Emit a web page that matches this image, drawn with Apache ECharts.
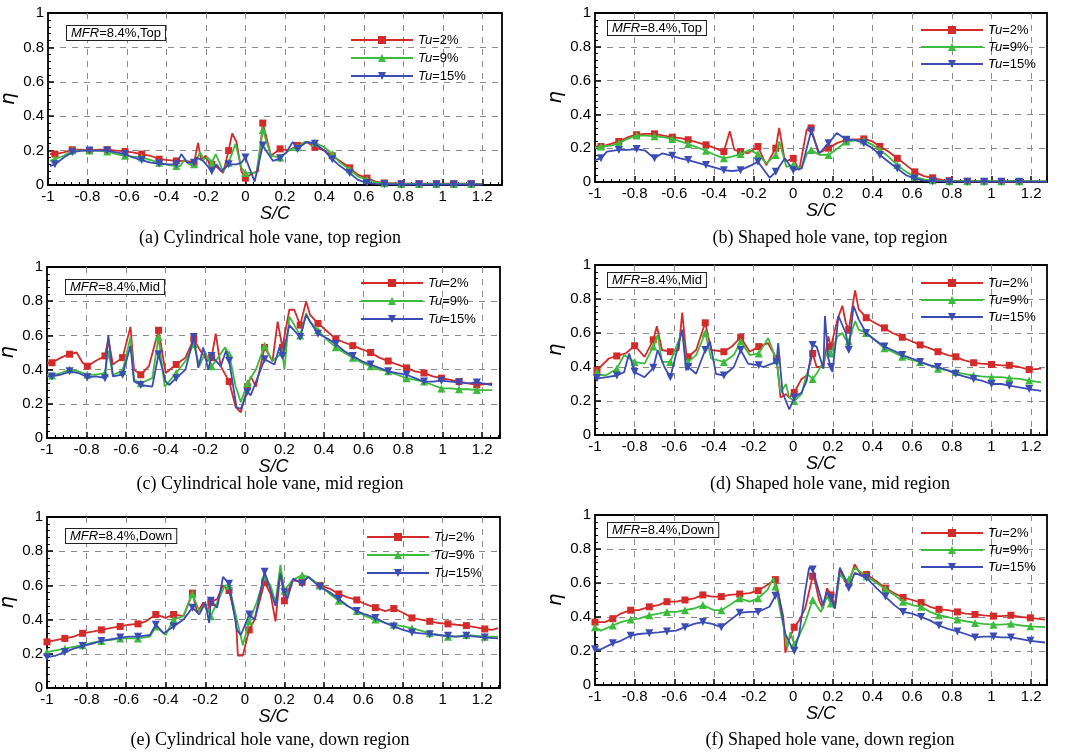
<!DOCTYPE html>
<html><head><meta charset="utf-8">
<script src="https://cdn.jsdelivr.net/npm/echarts@6/dist/echarts.min.js"></script>
<style>html,body{margin:0;padding:0;background:#fff}#c{width:1067px;height:754px}</style>
</head><body><div id="c"></div><script>
// ---------- labels ----------
const tuNames = ['Tu=2%', 'Tu=9%', 'Tu=15%'];
const regionTags = ['Top', 'Top', 'Mid', 'Mid', 'Down', 'Down'];
const captions = [
  '(a) Cylindrical hole vane, top region', '(b) Shaped hole vane, top region',
  '(c) Cylindrical hole vane, mid region', '(d) Shaped hole vane, mid region',
  '(e) Cylindrical hole vane, down region', '(f) Shaped hole vane, down region'];
const xAxisName = 'S/C';
const yAxisName = 'η';
const mfrText = 'MFR';
const mfrValue = '=8.4%';

// ---------- panel (a) ----------
const a2Mark = [[-0.965,0.18],[-0.877,0.205],[-0.79,0.20],[-0.70,0.205],[-0.61,0.195],[-0.525,0.18],[-0.437,0.15],[-0.35,0.14],[-0.26,0.13],[-0.17,0.12],[-0.085,0.20],[0,0.04],[0.088,0.36],[0.176,0.21],[0.264,0.23],[0.352,0.22],[0.44,0.17],[0.528,0.10],[0.616,0.04],[0.704,0.012],[0.79,0.008],[0.88,0.008],[0.968,0.008],[1.056,0.008],[1.144,0.008]];
const a2Line = [[-0.99,0.18],[-0.92,0.19],[-0.83,0.205],[-0.745,0.205],[-0.655,0.20],[-0.57,0.19],[-0.48,0.17],[-0.39,0.145],[-0.30,0.14],[-0.24,0.245],[-0.225,0.15],[-0.20,0.17],[-0.185,0.13],[-0.14,0.10],[-0.113,0.07],[-0.067,0.30],[-0.045,0.25],[-0.02,0.08],[0.039,0.07],[0.064,0.08],[0.13,0.17],[0.22,0.20],[0.31,0.25],[0.40,0.20],[0.48,0.14],[0.57,0.06],[0.66,0.02],[1.2,0.005]];
const a9Mark = [[-0.965,0.15],[-0.877,0.20],[-0.79,0.20],[-0.70,0.195],[-0.61,0.17],[-0.525,0.16],[-0.437,0.13],[-0.35,0.11],[-0.26,0.12],[-0.17,0.13],[-0.085,0.13],[0,0.07],[0.088,0.32],[0.176,0.16],[0.264,0.22],[0.352,0.245],[0.44,0.18],[0.528,0.09],[0.616,0.03],[0.704,0.01],[0.79,0.006],[0.88,0.006],[0.968,0.006],[1.056,0.006],[1.144,0.006]];
const a9Line = [[-0.99,0.14],[-0.92,0.17],[-0.83,0.20],[-0.745,0.20],[-0.655,0.18],[-0.57,0.165],[-0.48,0.145],[-0.39,0.115],[-0.33,0.11],[-0.307,0.15],[-0.285,0.12],[-0.23,0.19],[-0.21,0.15],[-0.19,0.16],[-0.15,0.18],[-0.113,0.08],[-0.05,0.24],[-0.02,0.10],[0.056,0.07],[0.13,0.17],[0.22,0.20],[0.30,0.25],[0.40,0.22],[0.48,0.13],[0.57,0.05],[0.66,0.015],[1.2,0.004]];
const a15Mark = [[-0.965,0.12],[-0.877,0.19],[-0.79,0.20],[-0.70,0.20],[-0.61,0.18],[-0.525,0.145],[-0.437,0.125],[-0.35,0.12],[-0.26,0.13],[-0.17,0.08],[-0.085,0.12],[0,0.16],[0.088,0.23],[0.176,0.155],[0.264,0.21],[0.352,0.24],[0.44,0.15],[0.528,0.07],[0.616,0.012],[0.704,0.005],[0.79,0.003],[0.88,0.003],[0.968,0.003],[1.056,0.003],[1.144,0.003]];
const a15Line = [[-0.99,0.11],[-0.92,0.16],[-0.83,0.20],[-0.745,0.20],[-0.655,0.19],[-0.57,0.16],[-0.48,0.13],[-0.39,0.12],[-0.324,0.18],[-0.295,0.13],[-0.248,0.16],[-0.214,0.14],[-0.147,0.12],[-0.12,0.08],[-0.045,0.12],[-0.02,0.13],[0.047,0.02],[0.14,0.14],[0.207,0.19],[0.24,0.25],[0.31,0.25],[0.40,0.20],[0.48,0.11],[0.57,0.03],[0.66,0.006],[1.2,0.002]];

// ---------- panel (b) ----------
const b2Mark = [[-0.97,0.21],[-0.88,0.24],[-0.79,0.28],[-0.70,0.285],[-0.61,0.265],[-0.53,0.25],[-0.44,0.22],[-0.35,0.18],[-0.266,0.18],[-0.178,0.21],[-0.088,0.20],[0,0.14],[0.09,0.32],[0.178,0.20],[0.268,0.25],[0.356,0.255],[0.437,0.21],[0.525,0.14],[0.613,0.06],[0.703,0.025],[0.788,0.008],[0.878,0.004],[0.963,0.003],[1.05,0.003],[1.14,0.003]];
const b2Line = [[-1,0.21],[-0.92,0.225],[-0.835,0.265],[-0.745,0.285],[-0.655,0.275],[-0.57,0.26],[-0.485,0.235],[-0.395,0.20],[-0.32,0.30],[-0.297,0.19],[-0.229,0.17],[-0.136,0.10],[-0.071,0.32],[-0.042,0.12],[0.03,0.07],[0.068,0.31],[0.10,0.32],[0.127,0.17],[0.22,0.23],[0.31,0.25],[0.40,0.24],[0.48,0.18],[0.57,0.10],[0.66,0.035],[0.75,0.012],[1.28,0.002]];
const b9Mark = [[-0.97,0.21],[-0.88,0.23],[-0.79,0.275],[-0.70,0.27],[-0.61,0.255],[-0.53,0.225],[-0.44,0.185],[-0.35,0.14],[-0.266,0.165],[-0.178,0.165],[-0.088,0.16],[0,0.10],[0.09,0.19],[0.178,0.16],[0.268,0.24],[0.356,0.245],[0.437,0.19],[0.525,0.10],[0.613,0.03],[0.703,0.01],[0.788,0.005],[0.878,0.005],[0.963,0.005],[1.05,0.005],[1.14,0.005]];
const b9Line = [[-1,0.20],[-0.92,0.215],[-0.835,0.255],[-0.745,0.275],[-0.655,0.265],[-0.57,0.24],[-0.485,0.205],[-0.395,0.16],[-0.31,0.15],[-0.22,0.19],[-0.136,0.11],[-0.071,0.24],[-0.034,0.09],[0.042,0.08],[0.07,0.17],[0.132,0.16],[0.203,0.18],[0.31,0.245],[0.40,0.22],[0.48,0.15],[0.57,0.06],[0.66,0.015],[0.75,0.006],[1.28,0.004]];
const b15Mark = [[-0.97,0.14],[-0.88,0.19],[-0.79,0.195],[-0.70,0.14],[-0.61,0.155],[-0.53,0.13],[-0.44,0.10],[-0.35,0.07],[-0.266,0.07],[-0.178,0.12],[-0.088,0.06],[0,0.07],[0.09,0.30],[0.178,0.23],[0.268,0.25],[0.356,0.23],[0.437,0.16],[0.525,0.08],[0.613,0.02],[0.703,0.005],[0.788,0.002],[0.878,0.002],[0.963,0.002],[1.05,0.002],[1.14,0.002]];
const b15Line = [[-1,0.13],[-0.94,0.18],[-0.835,0.19],[-0.746,0.185],[-0.66,0.17],[-0.57,0.14],[-0.485,0.115],[-0.395,0.085],[-0.31,0.065],[-0.21,0.10],[-0.119,0.025],[-0.042,0.14],[0.042,0.08],[0.132,0.17],[0.22,0.29],[0.31,0.25],[0.40,0.20],[0.48,0.12],[0.57,0.04],[0.66,0.008],[1.28,0.002]];

// ---------- panel (c) ----------
const c2Mark = [[-0.975,0.44],[-0.886,0.49],[-0.796,0.42],[-0.707,0.48],[-0.618,0.47],[-0.526,0.37],[-0.436,0.63],[-0.347,0.43],[-0.258,0.58],[-0.168,0.47],[-0.079,0.33],[0.013,0.30],[0.10,0.53],[0.19,0.53],[0.28,0.66],[0.37,0.67],[0.46,0.58],[0.546,0.54],[0.636,0.50],[0.725,0.45],[0.818,0.41],[0.906,0.38],[0.994,0.35],[1.083,0.33],[1.173,0.31]];
const c2Line = [[-1,0.44],[-0.93,0.47],[-0.85,0.50],[-0.82,0.44],[-0.755,0.45],[-0.69,0.58],[-0.667,0.43],[-0.578,0.65],[-0.56,0.40],[-0.485,0.42],[-0.40,0.38],[-0.30,0.47],[-0.23,0.52],[-0.19,0.45],[-0.147,0.61],[-0.122,0.42],[-0.046,0.18],[-0.02,0.15],[0.005,0.26],[0.03,0.36],[0.056,0.30],[0.14,0.45],[0.166,0.68],[0.225,0.75],[0.25,0.75],[0.31,0.80],[0.33,0.72],[0.42,0.62],[0.50,0.56],[0.59,0.52],[0.68,0.47],[0.77,0.43],[0.86,0.39],[0.95,0.36],[1.04,0.34],[1.13,0.32],[1.25,0.32]];
const c9Mark = [[-0.975,0.365],[-0.886,0.40],[-0.796,0.37],[-0.707,0.38],[-0.618,0.39],[-0.526,0.32],[-0.436,0.59],[-0.347,0.38],[-0.258,0.55],[-0.168,0.42],[-0.079,0.49],[0.013,0.32],[0.10,0.54],[0.19,0.50],[0.28,0.60],[0.37,0.63],[0.46,0.53],[0.546,0.47],[0.636,0.42],[0.725,0.39],[0.818,0.35],[0.906,0.33],[0.994,0.29],[1.083,0.285],[1.173,0.28]];
const c9Line = [[-1,0.37],[-0.93,0.38],[-0.84,0.39],[-0.755,0.37],[-0.69,0.51],[-0.667,0.37],[-0.578,0.59],[-0.56,0.34],[-0.468,0.35],[-0.405,0.30],[-0.30,0.45],[-0.23,0.42],[-0.20,0.50],[-0.147,0.45],[-0.10,0.53],[-0.046,0.30],[-0.02,0.21],[0.056,0.40],[0.14,0.45],[0.20,0.40],[0.225,0.71],[0.31,0.73],[0.33,0.68],[0.42,0.57],[0.50,0.50],[0.59,0.44],[0.68,0.40],[0.77,0.37],[0.86,0.34],[0.95,0.31],[1.04,0.29],[1.13,0.285],[1.25,0.28]];
const c15Mark = [[-0.975,0.36],[-0.886,0.39],[-0.796,0.355],[-0.707,0.35],[-0.618,0.37],[-0.526,0.31],[-0.436,0.49],[-0.347,0.35],[-0.258,0.59],[-0.168,0.48],[-0.079,0.45],[0.013,0.27],[0.10,0.46],[0.19,0.48],[0.28,0.59],[0.37,0.61],[0.46,0.55],[0.546,0.48],[0.636,0.43],[0.725,0.39],[0.818,0.37],[0.906,0.33],[0.994,0.335],[1.083,0.325],[1.173,0.325]];
const c15Line = [[-1,0.36],[-0.93,0.37],[-0.84,0.38],[-0.75,0.36],[-0.69,0.60],[-0.667,0.36],[-0.578,0.54],[-0.56,0.33],[-0.468,0.30],[-0.40,0.33],[-0.383,0.31],[-0.30,0.40],[-0.235,0.41],[-0.21,0.53],[-0.185,0.40],[-0.122,0.42],[-0.095,0.51],[-0.042,0.18],[-0.02,0.17],[0.03,0.25],[0.15,0.43],[0.175,0.53],[0.225,0.66],[0.31,0.72],[0.33,0.68],[0.42,0.58],[0.50,0.51],[0.59,0.45],[0.68,0.41],[0.77,0.38],[0.86,0.35],[0.95,0.33],[1.04,0.33],[1.13,0.32],[1.25,0.31]];

// ---------- panel (d) ----------
const d2Mark = [[-0.99,0.38],[-0.89,0.465],[-0.80,0.525],[-0.706,0.56],[-0.62,0.49],[-0.53,0.46],[-0.444,0.66],[-0.35,0.49],[-0.265,0.575],[-0.174,0.52],[-0.084,0.45],[0.005,0.25],[0.098,0.48],[0.19,0.52],[0.28,0.62],[0.368,0.69],[0.46,0.63],[0.55,0.575],[0.64,0.53],[0.73,0.49],[0.82,0.46],[0.91,0.425],[1.0,0.415],[1.09,0.41],[1.19,0.385]];
const d2Line = [[-1,0.37],[-0.93,0.45],[-0.845,0.48],[-0.75,0.46],[-0.688,0.64],[-0.662,0.50],[-0.578,0.50],[-0.56,0.72],[-0.54,0.48],[-0.49,0.50],[-0.414,0.50],[-0.31,0.52],[-0.22,0.49],[-0.127,0.54],[-0.064,0.22],[-0.037,0.24],[-0.02,0.22],[0.042,0.33],[0.068,0.35],[0.118,0.40],[0.152,0.40],[0.177,0.58],[0.223,0.68],[0.248,0.76],[0.265,0.66],[0.312,0.85],[0.33,0.74],[0.41,0.66],[0.50,0.60],[0.60,0.55],[0.69,0.51],[0.78,0.47],[0.86,0.44],[0.95,0.42],[1.05,0.41],[1.14,0.40],[1.25,0.39]];
const d9Mark = [[-0.99,0.37],[-0.89,0.39],[-0.80,0.43],[-0.706,0.52],[-0.62,0.43],[-0.53,0.43],[-0.444,0.60],[-0.35,0.43],[-0.265,0.55],[-0.174,0.48],[-0.084,0.44],[0.005,0.20],[0.098,0.33],[0.19,0.48],[0.28,0.55],[0.368,0.60],[0.46,0.51],[0.55,0.46],[0.64,0.43],[0.73,0.39],[0.82,0.37],[0.91,0.35],[1.0,0.34],[1.09,0.335],[1.19,0.32]];
const d9Line = [[-1,0.36],[-0.946,0.35],[-0.853,0.47],[-0.75,0.42],[-0.684,0.59],[-0.662,0.43],[-0.56,0.61],[-0.54,0.42],[-0.49,0.47],[-0.414,0.45],[-0.30,0.47],[-0.22,0.47],[-0.127,0.57],[-0.064,0.25],[-0.037,0.30],[-0.02,0.22],[0.042,0.24],[0.068,0.36],[0.118,0.36],[0.152,0.43],[0.177,0.50],[0.223,0.58],[0.248,0.60],[0.265,0.56],[0.312,0.67],[0.33,0.62],[0.41,0.56],[0.50,0.49],[0.60,0.44],[0.69,0.41],[0.78,0.38],[0.86,0.36],[0.95,0.345],[1.05,0.34],[1.14,0.33],[1.25,0.31]];
const d15Mark = [[-0.99,0.335],[-0.89,0.35],[-0.80,0.37],[-0.706,0.395],[-0.62,0.34],[-0.53,0.40],[-0.444,0.50],[-0.35,0.35],[-0.265,0.50],[-0.174,0.41],[-0.084,0.43],[0.005,0.22],[0.098,0.53],[0.19,0.40],[0.28,0.50],[0.368,0.60],[0.46,0.52],[0.55,0.47],[0.64,0.43],[0.73,0.40],[0.82,0.36],[0.91,0.33],[1.0,0.30],[1.09,0.29],[1.19,0.27]];
const d15Line = [[-1,0.33],[-0.94,0.34],[-0.853,0.37],[-0.828,0.48],[-0.75,0.34],[-0.684,0.50],[-0.65,0.40],[-0.56,0.62],[-0.54,0.38],[-0.49,0.36],[-0.42,0.55],[-0.39,0.36],[-0.30,0.40],[-0.228,0.42],[-0.152,0.40],[-0.076,0.54],[-0.054,0.25],[-0.02,0.15],[0.042,0.25],[0.068,0.32],[0.118,0.52],[0.152,0.39],[0.16,0.70],[0.177,0.45],[0.198,0.37],[0.228,0.70],[0.265,0.60],[0.304,0.76],[0.33,0.68],[0.41,0.56],[0.50,0.50],[0.60,0.45],[0.69,0.41],[0.78,0.38],[0.86,0.345],[0.95,0.32],[1.05,0.30],[1.14,0.28],[1.25,0.26]];

// ---------- panel (e) ----------
const e2Mark = [[-1.0,0.27],[-0.91,0.29],[-0.82,0.32],[-0.725,0.34],[-0.63,0.36],[-0.54,0.375],[-0.45,0.43],[-0.36,0.43],[-0.265,0.555],[-0.172,0.50],[-0.08,0.57],[0.022,0.34],[0.10,0.62],[0.20,0.51],[0.29,0.62],[0.38,0.60],[0.475,0.55],[0.566,0.515],[0.66,0.47],[0.753,0.465],[0.845,0.41],[0.935,0.39],[1.027,0.375],[1.12,0.365],[1.213,0.345]];
const e2Line = [[-0.955,0.28],[-0.865,0.30],[-0.77,0.33],[-0.68,0.35],[-0.585,0.37],[-0.50,0.39],[-0.40,0.41],[-0.31,0.42],[-0.24,0.44],[-0.21,0.50],[-0.19,0.45],[-0.14,0.52],[-0.11,0.60],[-0.045,0.40],[-0.035,0.19],[-0.01,0.19],[0.05,0.40],[0.13,0.55],[0.155,0.39],[0.18,0.68],[0.24,0.63],[0.32,0.65],[0.43,0.58],[0.52,0.53],[0.61,0.49],[0.71,0.45],[0.80,0.44],[0.89,0.40],[0.98,0.38],[1.07,0.37],[1.17,0.355],[1.25,0.34],[1.28,0.35]];
const e9Mark = [[-1.0,0.21],[-0.91,0.23],[-0.82,0.25],[-0.725,0.275],[-0.63,0.29],[-0.54,0.29],[-0.45,0.36],[-0.36,0.40],[-0.265,0.55],[-0.172,0.42],[-0.08,0.60],[0.022,0.39],[0.10,0.65],[0.20,0.57],[0.29,0.66],[0.38,0.60],[0.475,0.51],[0.566,0.45],[0.66,0.40],[0.753,0.37],[0.845,0.35],[0.935,0.32],[1.027,0.30],[1.12,0.31],[1.213,0.30]];
const e9Line = [[-0.955,0.22],[-0.865,0.24],[-0.77,0.265],[-0.68,0.28],[-0.585,0.29],[-0.48,0.30],[-0.40,0.31],[-0.31,0.42],[-0.23,0.45],[-0.20,0.49],[-0.14,0.50],[-0.10,0.60],[-0.04,0.40],[-0.01,0.25],[0.06,0.50],[0.13,0.60],[0.155,0.50],[0.18,0.72],[0.24,0.63],[0.32,0.65],[0.43,0.55],[0.52,0.48],[0.61,0.42],[0.71,0.38],[0.80,0.36],[0.89,0.335],[0.98,0.31],[1.07,0.30],[1.17,0.305],[1.28,0.30]];
const e15Mark = [[-1.0,0.18],[-0.91,0.21],[-0.82,0.245],[-0.725,0.275],[-0.63,0.295],[-0.54,0.30],[-0.45,0.37],[-0.36,0.36],[-0.265,0.47],[-0.172,0.51],[-0.08,0.61],[0.022,0.43],[0.10,0.68],[0.20,0.56],[0.29,0.61],[0.38,0.59],[0.475,0.52],[0.566,0.45],[0.66,0.41],[0.753,0.36],[0.845,0.325],[0.935,0.315],[1.027,0.305],[1.12,0.305],[1.213,0.295]];
const e15Line = [[-0.955,0.19],[-0.865,0.23],[-0.77,0.26],[-0.68,0.285],[-0.585,0.30],[-0.48,0.31],[-0.41,0.32],[-0.31,0.40],[-0.23,0.43],[-0.20,0.50],[-0.18,0.38],[-0.14,0.47],[-0.11,0.65],[-0.04,0.34],[-0.02,0.31],[0.05,0.40],[0.13,0.57],[0.155,0.48],[0.18,0.67],[0.215,0.52],[0.245,0.64],[0.32,0.65],[0.43,0.56],[0.52,0.48],[0.61,0.43],[0.71,0.38],[0.80,0.34],[0.89,0.32],[0.98,0.31],[1.07,0.30],[1.17,0.30],[1.28,0.29]];

// ---------- panel (f) ----------
const f2Mark = [[-1.0,0.37],[-0.91,0.39],[-0.82,0.44],[-0.726,0.46],[-0.637,0.49],[-0.546,0.50],[-0.456,0.53],[-0.363,0.52],[-0.27,0.535],[-0.177,0.555],[-0.09,0.62],[0.005,0.34],[0.098,0.64],[0.19,0.53],[0.28,0.60],[0.37,0.65],[0.465,0.57],[0.554,0.515],[0.645,0.485],[0.735,0.445],[0.828,0.43],[0.917,0.415],[1.01,0.405],[1.098,0.41],[1.196,0.395]];
const f2Line = [[-0.95,0.37],[-0.87,0.42],[-0.78,0.44],[-0.68,0.47],[-0.59,0.49],[-0.50,0.51],[-0.41,0.52],[-0.32,0.53],[-0.22,0.54],[-0.13,0.59],[-0.05,0.40],[-0.04,0.19],[-0.02,0.27],[0.03,0.38],[0.06,0.45],[0.10,0.66],[0.13,0.50],[0.15,0.45],[0.17,0.57],[0.21,0.47],[0.235,0.68],[0.26,0.61],[0.31,0.71],[0.34,0.65],[0.42,0.61],[0.51,0.54],[0.60,0.50],[0.69,0.46],[0.78,0.44],[0.87,0.42],[0.96,0.41],[1.05,0.405],[1.15,0.40],[1.27,0.385]];
const f9Mark = [[-1.0,0.34],[-0.91,0.35],[-0.82,0.385],[-0.726,0.41],[-0.637,0.43],[-0.546,0.44],[-0.456,0.47],[-0.363,0.44],[-0.27,0.51],[-0.177,0.51],[-0.09,0.58],[0.005,0.24],[0.098,0.50],[0.19,0.48],[0.28,0.62],[0.37,0.64],[0.465,0.565],[0.554,0.49],[0.645,0.46],[0.735,0.41],[0.828,0.385],[0.917,0.365],[1.01,0.355],[1.098,0.36],[1.196,0.345]];
const f9Line = [[-0.97,0.32],[-0.87,0.37],[-0.78,0.39],[-0.68,0.42],[-0.59,0.43],[-0.50,0.45],[-0.40,0.44],[-0.32,0.47],[-0.22,0.49],[-0.13,0.56],[-0.10,0.63],[-0.05,0.35],[-0.03,0.22],[-0.015,0.31],[0.03,0.29],[0.06,0.37],[0.14,0.43],[0.17,0.52],[0.21,0.45],[0.235,0.65],[0.26,0.62],[0.31,0.69],[0.42,0.60],[0.51,0.53],[0.60,0.47],[0.69,0.43],[0.78,0.40],[0.87,0.375],[0.96,0.36],[1.05,0.355],[1.15,0.35],[1.27,0.34]];
const f15Mark = [[-1.0,0.21],[-0.91,0.245],[-0.82,0.29],[-0.726,0.305],[-0.637,0.315],[-0.546,0.34],[-0.456,0.37],[-0.363,0.34],[-0.27,0.425],[-0.177,0.43],[-0.09,0.525],[0.005,0.20],[0.098,0.68],[0.19,0.51],[0.28,0.57],[0.37,0.63],[0.465,0.52],[0.554,0.43],[0.645,0.40],[0.735,0.35],[0.828,0.315],[0.917,0.28],[1.01,0.285],[1.098,0.28],[1.196,0.26]];
const f15Line = [[-0.97,0.21],[-0.87,0.26],[-0.78,0.30],[-0.68,0.31],[-0.59,0.32],[-0.50,0.36],[-0.41,0.36],[-0.32,0.38],[-0.22,0.43],[-0.12,0.46],[-0.075,0.54],[-0.04,0.30],[-0.015,0.24],[0.03,0.30],[0.06,0.55],[0.08,0.69],[0.13,0.55],[0.15,0.47],[0.17,0.55],[0.21,0.45],[0.235,0.69],[0.26,0.63],[0.31,0.66],[0.42,0.57],[0.51,0.47],[0.60,0.42],[0.69,0.38],[0.78,0.33],[0.87,0.30],[0.96,0.285],[1.05,0.28],[1.15,0.27],[1.27,0.25]];

const panelCurves = [
  [[a2Line, a2Mark], [a9Line, a9Mark], [a15Line, a15Mark]],
  [[b2Line, b2Mark], [b9Line, b9Mark], [b15Line, b15Mark]],
  [[c2Line, c2Mark], [c9Line, c9Mark], [c15Line, c15Mark]],
  [[d2Line, d2Mark], [d9Line, d9Mark], [d15Line, d15Mark]],
  [[e2Line, e2Mark], [e9Line, e9Mark], [e15Line, e15Mark]],
  [[f2Line, f2Mark], [f9Line, f9Mark], [f15Line, f15Mark]]
];
const xMin = -1, xStep = 0.2;
const xMaxes = [1.3, 1.28, 1.29, 1.28, 1.29, 1.28];
const yMin = 0, yMax = 1, yStep = 0.2;

// ---------- layout (pixels) ----------
const grids = [
  {left: 48, top: 13, width: 454, height: 172},
  {left: 595, top: 13, width: 452, height: 169},
  {left: 47, top: 267, width: 453, height: 171},
  {left: 595, top: 265, width: 452, height: 170},
  {left: 47, top: 517, width: 453, height: 171},
  {left: 595, top: 515, width: 452, height: 170}
];
const legendPos = [
  {left: 350, top: 33, gap: 4},
  {left: 920, top: 23, gap: 3},
  {left: 360, top: 276, gap: 4},
  {left: 920, top: 276, gap: 3},
  {left: 366, top: 530, gap: 4},
  {left: 920, top: 526, gap: 3}
];
const boxPos = [[66, 25], [607, 20], [65, 279], [607, 272], [65, 528], [607, 522]];
const capPos = [[270, 238], [830, 238], [270, 484], [830, 484], [270, 740], [830, 740]];

const colors = ['#d42a2a', '#3cbc3c', '#3b4cb4'];
const symbols = ['rect', 'triangle', 'triangle'];
const rotates = [0, 0, 180];
const FONT = 'Liberation Sans';

function merged(line, mark) {
  const pts = line.map(p => ({value: p, symbol: 'none'})).concat(mark.map(p => ({value: p})));
  pts.sort((u, v) => u.value[0] - v.value[0]);
  return pts;
}
function isMajor(v) { const k = (v - xMin) / xStep; return Math.abs(k - Math.round(k)) < 1e-6; }

const series = [];
panelCurves.forEach((curves, i) => {
  curves.forEach(([line, mark], k) => {
    series.push({
      type: 'line', name: tuNames[k], xAxisIndex: i, yAxisIndex: i,
      data: merged(line, mark),
      symbol: symbols[k], symbolRotate: rotates[k], symbolSize: k === 0 ? 7 : 8,
      showAllSymbol: true, showSymbol: true,
      lineStyle: {color: colors[k], width: 1.8},
      itemStyle: {color: colors[k]},
      emphasis: {disabled: true},
      z: 3 + k, animation: false
    });
  });
});

const axisCommon = {
  axisLine: {show: false, onZero: false},
  axisTick: {show: true, inside: true, length: 6, lineStyle: {color: '#000', width: 1.5}},
  minorTick: {show: true, splitNumber: 5, length: 3, lineStyle: {color: '#000', width: 1}},
  splitLine: {show: true, showMinLine: false, showMaxLine: false, lineStyle: {color: '#8a8a8a', width: 1, type: [6, 6]}}
};

const option = {
  backgroundColor: '#fff',
  animation: false,
  grid: grids.map(g => Object.assign({show: true, borderColor: '#000', borderWidth: 1.8, backgroundColor: 'transparent', containLabel: false, outerBoundsMode: 'none'}, g)),
  xAxis: grids.map((g, i) => Object.assign({
    type: 'value', gridIndex: i, min: xMin, max: xMaxes[i], interval: xStep,
    axisLabel: {show: true, color: '#000', fontSize: 15, fontFamily: FONT, margin: 4,
      formatter: v => isMajor(v) ? String(+v.toFixed(2)) : ''},
    name: xAxisName, nameLocation: 'middle', nameGap: 20,
    nameTextStyle: {color: '#000', fontSize: 18, fontStyle: 'italic', fontFamily: FONT}
  }, axisCommon)),
  yAxis: grids.map((g, i) => Object.assign({
    type: 'value', gridIndex: i, min: yMin, max: yMax, interval: yStep,
    axisLabel: {show: true, color: '#000', fontSize: 15, fontFamily: FONT, margin: 4,
      formatter: v => String(+v.toFixed(2))},
    name: yAxisName, nameLocation: 'middle', nameGap: 24, nameRotate: 90,
    nameTextStyle: {color: '#000', fontSize: 20, fontStyle: 'italic', fontFamily: 'DejaVu Sans'}
  }, axisCommon)),
  legend: legendPos.map(p => ({
    orient: 'vertical', left: p.left, top: p.top, itemGap: p.gap, padding: 0,
    itemWidth: 62, itemHeight: 10, selectedMode: false,
    data: tuNames,
    formatter: n => '{i|' + n.slice(0, 2) + '}{n|' + n.slice(2) + '}',
    textStyle: {color: '#000', fontSize: 13, fontFamily: FONT, lineHeight: 14,
      rich: {i: {fontStyle: 'italic', fontSize: 13, fontFamily: FONT, color: '#000', lineHeight: 14},
             n: {fontSize: 13, fontFamily: FONT, color: '#000', lineHeight: 14}}}
  })),
  graphic: [].concat(
    boxPos.map((b, i) => ({
      type: 'text', left: b[0], top: b[1], z: 50,
      style: {
        text: '{i|' + mfrText + '}{n|' + mfrValue + ',' + regionTags[i] + '}',
        rich: {i: {fontStyle: 'italic', fontSize: 13, fontFamily: FONT, fill: '#000'},
               n: {fontSize: 13, fontFamily: FONT, fill: '#000'}},
        fontSize: 13, fontFamily: FONT, fill: '#000',
        backgroundColor: '#fff', borderColor: '#222', borderWidth: 1, padding: [1, 4, 0, 4]
      }
    })),
    capPos.map((c, i) => ({
      type: 'text', x: c[0], y: c[1], z: 50,
      style: {text: captions[i], fontSize: 18, fontFamily: 'Liberation Serif', fill: '#000', align: 'center', verticalAlign: 'middle'}
    }))
  ),
  series: series
};
const chart = echarts.init(document.getElementById('c'));
chart.setOption(option);
</script></body></html>
